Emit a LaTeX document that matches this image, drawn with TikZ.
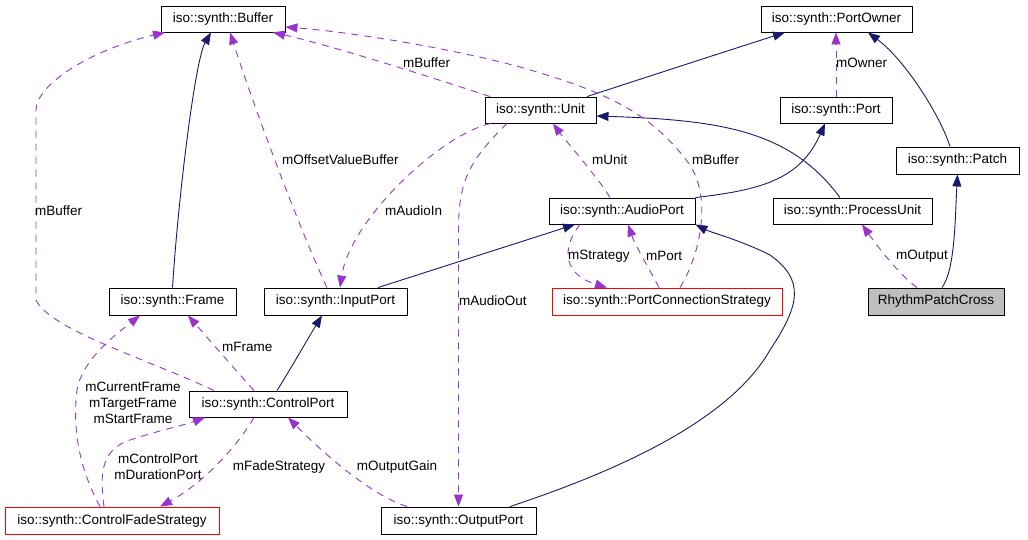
\documentclass[tikz,border=0pt]{standalone}
\usepackage{fontspec}
\setmainfont{Liberation Sans}
\usetikzlibrary{arrows.meta}
\definecolor{inhcol}{HTML}{191970}
\definecolor{refcol}{HTML}{9A32CD}
\definecolor{boxgray}{HTML}{BFBFBF}
\definecolor{boxred}{HTML}{FF0000}
\tikzset{
 cls/.style={draw=black, line width=0.9pt, fill=white, inner sep=0pt, minimum height=26pt, font=\fontsize{13.5}{16}\selectfont},
 redcls/.style={cls, draw=boxred},
 curcls/.style={cls, fill=boxgray},
 inh/.style={draw=inhcol, line width=0.9pt, -{Triangle[length=12pt,width=9pt]}},
 ref/.style={draw=refcol, line width=0.9pt, dash pattern=on 7pt off 6pt, -{Triangle[length=12pt,width=9pt]}},
 lbl/.style={inner sep=0pt, font=\fontsize{13.5}{16}\selectfont, anchor=west},
 lblc/.style={inner sep=0pt, font=\fontsize{13.5}{16}\selectfont, align=center},
}
\begin{document}
\begin{tikzpicture}[x=1pt,y=-1pt]
\useasboundingbox[fill=white] (0,0) rectangle (1028,539);
% nodes
\node[cls, minimum width=124pt] (buf) at (223,19) {iso::synth::Buffer};
\node[cls, minimum width=151pt] (po) at (836.5,19) {iso::synth::PortOwner};
\node[cls, minimum width=111pt] (unit) at (540.5,110) {iso::synth::Unit};
\node[cls, minimum width=112pt] (port) at (836,110) {iso::synth::Port};
\node[cls, minimum width=123pt, minimum height=27pt] (patch) at (957.5,160.5) {iso::synth::Patch};
\node[cls, minimum width=146pt] (ap) at (622,211) {iso::synth::AudioPort};
\node[cls, minimum width=159pt] (pu) at (852.5,211) {iso::synth::ProcessUnit};
\node[redcls, minimum width=230pt, minimum height=27pt] (pcs) at (667,301.5) {iso::synth::PortConnectionStrategy};
\node[curcls, minimum width=136pt, minimum height=27pt] (rpc) at (936,301.5) {RhythmPatchCross};
\node[cls, minimum width=127pt, minimum height=27pt] (frame) at (172.5,301.5) {iso::synth::Frame};
\node[cls, minimum width=143pt, minimum height=27pt] (ip) at (335.5,301.5) {iso::synth::InputPort};
\node[cls, minimum width=158pt] (cp) at (268,404) {iso::synth::ControlPort};
\node[redcls, minimum width=214pt, minimum height=27pt] (cfs) at (112,520.5) {iso::synth::ControlFadeStrategy};
\node[cls, minimum width=155pt, minimum height=27pt] (op) at (458.5,520.5) {iso::synth::OutputPort};

% inheritance edges
\draw[inh] (frame.north) .. controls (178,200) and (195,60) .. ([xshift=-12pt]buf.south);
\draw[inh] ([xshift=46.5pt]unit.north) .. controls (650,76) and (730,50) .. ([xshift=-51.5pt]po.south);
\draw[inh] ([xshift=-7.5pt]patch.north) .. controls (940,115) and (905,60) .. ([xshift=31.5pt]po.south);
\draw[inh] (ap.north east) .. controls (760,190) and (800,180) .. ([xshift=-11pt]port.south);
\draw[inh] ([xshift=-12.5pt]pu.north) .. controls (790,130) and (720,120) .. ([yshift=-6pt]unit.east);
\draw[inh] ([xshift=42.5pt]ip.north) -- ([xshift=-47pt]ap.south);
\draw[inh] ([xshift=51.5pt]op.north) .. controls (620,470) and (730,420) .. (770,350)
  .. controls (800,305) and (805,280) .. (770,255) .. controls (740,240) and (710,232) .. (ap.south east);
\draw[inh] ([xshift=6pt]rpc.north) .. controls (955,270) and (955,220) .. (patch.south);
\draw[inh] ([xshift=9pt]cp.north) .. controls (290,370) and (310,335) .. ([xshift=-13.5pt]ip.south);

% reference edges
\draw[ref] ([xshift=-8.5pt]ip.north) .. controls (300,230) and (255,110) .. ([xshift=7pt]buf.south);
\node[lbl] (l1) at (282,160) {mOffsetValueBuffer};
\draw[ref] ([xshift=-54pt]cp.north) .. controls (150,360) and (50,330) .. (36,300) -- (36,110)
  .. controls (36,85) and (90,50) .. ([xshift=-58pt]buf.south);
\node[lbl] (l2) at (35,211) {mBuffer};
\draw[ref] ([xshift=-50.5pt]unit.north) .. controls (440,80) and (330,45) .. ([xshift=50pt]buf.south);
\node[lbl] (l3) at (403,63) {mBuffer};
\draw[ref] ([xshift=13pt]pcs.north) .. controls (700,255) and (712,200) .. (690,165)
  .. controls (650,110) and (600,90) .. (520,67) .. controls (450,48) and (350,32) .. ([yshift=-8pt]buf.east);
\node[lbl] (l4) at (692,160) {mBuffer};
\draw[ref] (port.north) -- (port.north |- po.south);
\node[lbl] (l5) at (836,63) {mOwner};
\draw[ref] ([xshift=-12pt]ap.north) .. controls (600,180) and (565,140) .. ([xshift=12.5pt]unit.south);
\node[lbl] (l6) at (592,160) {mUnit};
\draw[ref] ([xshift=-50pt]unit.south) .. controls (440,135) and (350,220) .. ([xshift=4.5pt]ip.north);
\node[lbl] (l7) at (385,211) {mAudioIn};
\draw[ref] ([xshift=-33.5pt]unit.south) .. controls (470,160) and (458.5,180) .. ([yshift=277pt]op.north) -- (op.north);
\node[lbl] (l8) at (459,301) {mAudioOut};
\draw[ref] ([xshift=-42pt]ap.south) .. controls (560,250) and (565,275) .. ([xshift=-60pt]pcs.north);
\node[lbl] (l9) at (568,256) {mStrategy};
\draw[ref] ([xshift=-8pt]pcs.north) .. controls (650,270) and (635,245) .. ([xshift=6pt]ap.south);
\node[lbl] (l10) at (646,256) {mPort};
\draw[ref] ([xshift=-19pt]rpc.north) .. controls (900,275) and (880,250) .. ([xshift=9.5pt]pu.south);
\node[lbl] (l11) at (896,256) {mOutput};
\draw[ref] ([xshift=-14pt]cp.north) .. controls (240,375) and (205,335) .. ([xshift=15.5pt]frame.south);
\node[lbl] (l12) at (222,347) {mFrame};
\draw[ref] ([xshift=-12pt]cfs.north) .. controls (80,470) and (72,430) .. (77,390)
  .. controls (82,360) and (115,335) .. ([xshift=-32.5pt]frame.south);
\node[lblc] (l13) at (133,403) {mCurrentFrame\\mTargetFrame\\mStartFrame};
\draw[ref] ([xshift=-8pt]cfs.north) .. controls (100,475) and (100,450) .. (130,440)
  .. controls (160,430) and (185,425) .. ([xshift=-63pt]cp.south);
\node[lblc] (l14) at (158,467) {mControlPort\\mDurationPort};
\draw[ref] ([xshift=-14pt]cp.south) .. controls (235,450) and (200,485) .. ([xshift=48pt]cfs.north);
\node[lblc] (l15) at (279,467) {mFadeStrategy};
\draw[ref] ([xshift=-51.5pt]op.north) .. controls (370,495) and (320,450) .. ([xshift=20pt]cp.south);
\node[lblc] (l16) at (397,467) {mOutputGain};
\end{tikzpicture}
\end{document}
